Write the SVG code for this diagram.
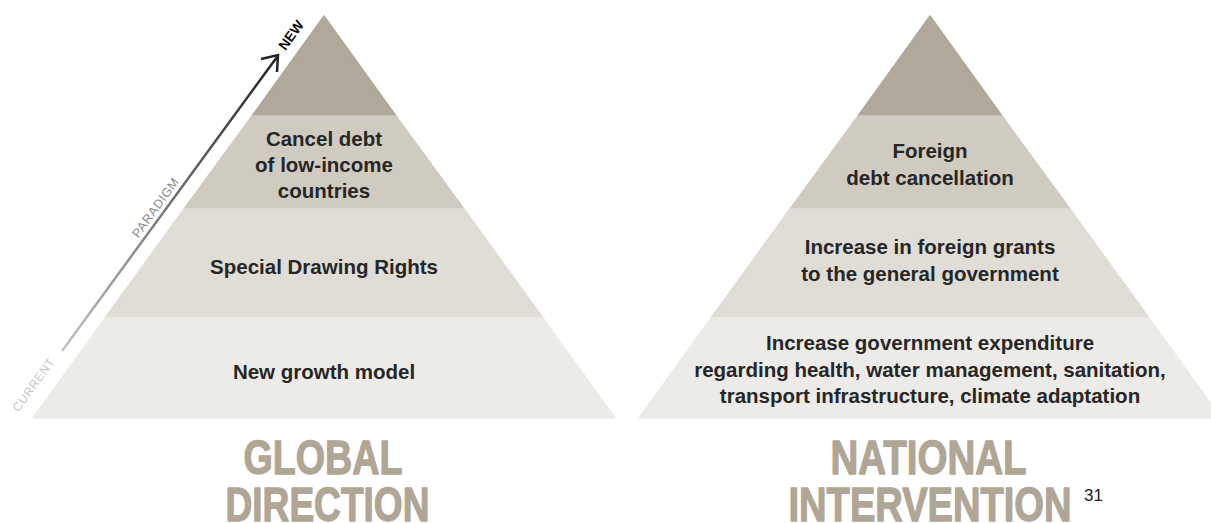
<svg xmlns="http://www.w3.org/2000/svg" width="1211" height="523" viewBox="0 0 1211 523">
<style>
.b1{fill:#b0a898;stroke:#b0a898}
.b2{fill:#d0cbc1;stroke:#d0cbc1}
.b3{fill:#e0dcd6;stroke:#e0dcd6}
.b4{fill:#edebe7;stroke:#edebe7}
.band{stroke-width:1.5;stroke-linejoin:round}
.lbl{font-family:"Liberation Sans",Arial,sans-serif;font-weight:bold;font-size:20.5px;fill:#262626;text-anchor:middle}
.ttl{font-family:"Liberation Sans",Arial,sans-serif;font-weight:bold;font-size:48px;fill:#b0a695;stroke:#b0a695;stroke-width:1.3;stroke-linejoin:round;text-anchor:middle}
.rot{font-family:"Liberation Sans",Arial,sans-serif;text-anchor:middle}
</style>
<defs>
<linearGradient id="arrowGrad" gradientUnits="userSpaceOnUse" x1="62" y1="351" x2="278" y2="55">
<stop offset="0" stop-color="#c4c4c4"/>
<stop offset="1" stop-color="#222222"/>
</linearGradient>
</defs>
<rect width="1211" height="523" fill="#ffffff"/>

<g id="global-pyramid">
<g id="g-tier1"><polygon class="band b1" points="324,16 396,116 252,116"/></g>
<g id="g-tier2"><polygon class="band b2" points="252,116 396,116 464,209 184,209"/>
<text class="lbl" x="324" y="146">Cancel debt</text>
<text class="lbl" x="324" y="172">of low-income</text>
<text class="lbl" x="324" y="198">countries</text></g>
<g id="g-tier3"><polygon class="band b3" points="184,209 464,209 543,318 105,318"/>
<text class="lbl" x="324" y="274">Special Drawing Rights</text></g>
<g id="g-tier4"><polygon class="band b4" points="105,318 543,318 615,418 33,418"/>
<text class="lbl" x="324" y="379">New growth model</text></g>
<g id="g-title">
<text class="ttl" x="323" y="474" textLength="159" lengthAdjust="spacingAndGlyphs">GLOBAL</text>
<text class="ttl" x="327.5" y="521" textLength="204" lengthAdjust="spacingAndGlyphs">DIRECTION</text>
</g>
</g>

<g id="national-pyramid">
<g id="n-tier1"><polygon class="band b1" points="930,16 1002,116 858,116"/></g>
<g id="n-tier2"><polygon class="band b2" points="858,116 1002,116 1070,209 790,209"/>
<text class="lbl" x="930" y="158">Foreign</text>
<text class="lbl" x="930" y="185">debt cancellation</text></g>
<g id="n-tier3"><polygon class="band b3" points="790,209 1070,209 1149,318 711,318"/>
<text class="lbl" x="930" y="254">Increase in foreign grants</text>
<text class="lbl" x="930" y="281">to the general government</text></g>
<g id="n-tier4"><polygon class="band b4" points="711,318 1149,318 1221,418 639,418"/>
<text class="lbl" x="930" y="350">Increase government expenditure</text>
<text class="lbl" x="930" y="377">regarding health, water management, sanitation,</text>
<text class="lbl" x="930" y="403">transport infrastructure, climate adaptation</text></g>
<g id="n-title">
<text class="ttl" x="928.5" y="474" textLength="196" lengthAdjust="spacingAndGlyphs">NATIONAL</text>
<text class="ttl" x="930" y="521" textLength="283" lengthAdjust="spacingAndGlyphs">INTERVENTION</text>
<text x="1084" y="501" font-family="Liberation Sans, Arial, sans-serif" font-size="17" fill="#222">31</text>
</g>
</g>

<g id="connectors">
<line x1="62" y1="351" x2="277" y2="57" stroke="url(#arrowGrad)" stroke-width="2.5"/>
<polyline points="261,59 278,55 277,72" fill="none" stroke="#222" stroke-width="2.5" stroke-linejoin="miter" stroke-linecap="butt"/>
</g>

<g id="paradigm-labels">
<text class="rot" transform="translate(37,387) rotate(-54)" font-size="12" letter-spacing="0.6" fill="#c8c8c8">CURRENT</text>
<text class="rot" transform="translate(159,210) rotate(-54)" font-size="12.5" letter-spacing="0.6" fill="#8a8a8a">PARADIGM</text>
<text class="rot" transform="translate(295,38) rotate(-54)" font-size="14" font-weight="bold" fill="#111">NEW</text>
</g>
</svg>
